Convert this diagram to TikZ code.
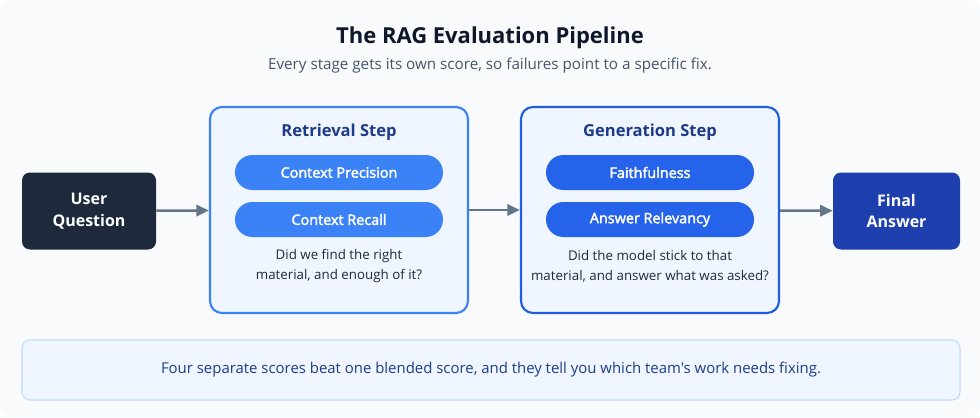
\documentclass[tikz,border=0pt]{standalone}
\usepackage{fontspec}
\setmainfont{Open Sans}
\newfontfamily\semifont{Open Sans}[FakeBold=2.5]
\newfontfamily\bannerfont{Open Sans}[Ligatures=TeXOff]
\usetikzlibrary{positioning,arrows.meta}
\definecolor{pagebg}{HTML}{F8FAFC}
\definecolor{inkdark}{HTML}{0F172A}
\definecolor{inkgray}{HTML}{475569}
\definecolor{slatebox}{HTML}{1E293B}
\definecolor{navybox}{HTML}{1E40AF}
\definecolor{stagefill}{HTML}{EFF6FF}
\definecolor{retrline}{HTML}{3B82F6}
\definecolor{genline}{HTML}{1D5FE0}
\definecolor{retrpill}{HTML}{3B82F6}
\definecolor{genpill}{HTML}{2563EB}
\definecolor{stagetitle}{HTML}{1E3A8A}
\definecolor{arrowgray}{HTML}{64748B}
\definecolor{bannerline}{HTML}{BFDBFE}

\begin{document}
\begin{tikzpicture}[x=0.75pt,y=-0.75pt,
    endbox/.style={rounded corners=6pt,minimum width=100.5pt,minimum height=57.75pt,
        text=white,font=\bfseries\fontsize{12}{16}\selectfont,align=center},
    stagebox/.style={draw=#1,line width=1.6pt,fill=stagefill,rounded corners=9pt,
        minimum width=193.5pt,minimum height=154.5pt},
    pill/.style={fill=#1,rounded corners=13pt,minimum width=156pt,minimum height=26.25pt,
        text=white,font=\semifont\fontsize{10.8}{13}\selectfont},
    flow/.style={arrowgray,line width=1.9pt,-{Triangle[length=9.5pt,width=8.5pt]}}]

    % page
    \fill[white] (0,0) rectangle (980,417);
    \fill[pagebg,rounded corners=9pt] (0,0) rectangle (980,417);

    % heading
    \node[text=inkdark,font=\bfseries\fontsize{16.5}{20}\selectfont] (title) at (490,38) {The RAG Evaluation Pipeline};
    \node[text=inkgray,font=\fontsize{11.4}{14}\selectfont] (subtitle) at (490,66) {Every stage gets its own score, so failures point to a specific fix.};

    % end points
    \node[endbox,fill=slatebox] (user) at (89,211) {User\\Question};
    \node[endbox,fill=navybox,minimum width=95.25pt] (final) at (896.5,211) {Final\\Answer};

    % stages
    \node[stagebox=retrline] (retr) at (339,210) {};
    \node[stagebox=genline] (gen) at (650,210) {};

    \node[text=stagetitle,font=\bfseries\fontsize{12.4}{15}\selectfont] (retrtitle) at (339,132) {Retrieval Step};
    \node[pill=retrpill] (precision) at (339,172.5) {Context Precision};
    \node[pill=retrpill] (recall) at (339,219.5) {Context Recall};
    \node[text=slatebox,font=\fontsize{10}{15}\selectfont,align=center] (retrnote) at (339,266)
        {Did we find the right\\material, and enough of it?};

    \node[text=stagetitle,font=\bfseries\fontsize{12.4}{15}\selectfont] (gentitle) at (650,132) {Generation Step};
    \node[pill=genpill] (faith) at (650,172.5) {Faithfulness};
    \node[pill=genpill] (relevancy) at (650,219.5) {Answer Relevancy};
    \node[text=slatebox,font=\fontsize{10}{15}\selectfont,align=center] (gennote) at (650,266)
        {Did the model stick to that\\material, and answer what was asked?};

    % connectors
    \draw[flow] (user) -- (retr);
    \draw[flow] (retr) -- (gen);
    \draw[flow] (gen) -- (final);

    % takeaway
    \node[draw=bannerline,line width=0.8pt,fill=stagefill,rounded corners=6pt,
        minimum width=703.5pt,minimum height=45pt,text=stagetitle,
        font=\bannerfont\fontsize{11.2}{13}\selectfont] (banner) at (491,370)
        {Four separate scores beat one blended score, and they tell you which team's work needs fixing.};
\end{tikzpicture}
\end{document}
